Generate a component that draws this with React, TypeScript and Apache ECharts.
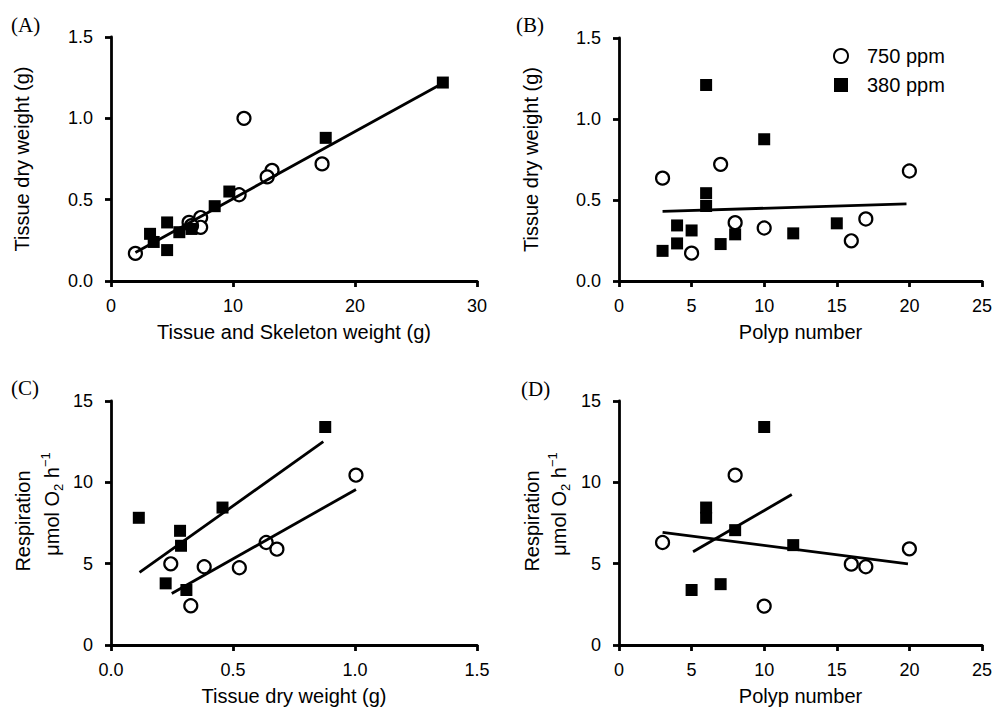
import React, { useEffect, useRef } from "react";
import * as echarts from "echarts";

// Panel A: Tissue and skeleton weight (g) vs tissue dry weight (g)
const aX750 = [2.0, 10.9, 13.2, 12.8, 17.3, 10.5, 7.35, 7.35, 6.4, 6.6];
const aY750 = [0.17, 1.0, 0.68, 0.64, 0.72, 0.53, 0.39, 0.33, 0.36, 0.34];
const aX380 = [27.2, 17.6, 9.7, 8.5, 4.6, 3.2, 3.5, 4.6, 5.6, 6.6];
const aY380 = [1.22, 0.88, 0.55, 0.46, 0.36, 0.29, 0.24, 0.19, 0.3, 0.32];
const aFitX = [2.0, 27.3];
const aFitY = [0.175, 1.22];

// Panel B: polyp number vs tissue dry weight (g)
const bX750 = [3, 5, 7, 8, 10, 16, 17, 20];
const bY750 = [0.635, 0.172, 0.72, 0.36, 0.327, 0.248, 0.383, 0.679];
const bX380 = [6, 10, 6, 6, 4, 5, 3, 4, 7, 8, 12, 15];
const bY380 = [1.21, 0.875, 0.542, 0.463, 0.343, 0.312, 0.186, 0.232, 0.228, 0.288, 0.294, 0.356];
const bFitX = [3, 19.8];
const bFitY = [0.43, 0.476];

// Panel C: tissue dry weight (g) vs respiration
const cX750 = [0.245, 0.327, 0.382, 0.526, 0.636, 0.68, 1.004];
const cY750 = [4.99, 2.41, 4.81, 4.75, 6.3, 5.89, 10.44];
const cX380 = [0.114, 0.283, 0.287, 0.224, 0.309, 0.457, 0.878];
const cY380 = [7.82, 7.02, 6.1, 3.79, 3.38, 8.45, 13.4];
const cFit750X = [0.249, 1.004];
const cFit750Y = [3.17, 9.56];
const cFit380X = [0.117, 0.87];
const cFit380Y = [4.46, 12.5];

// Panel D: polyp number vs respiration
const dX750 = [3, 8, 10, 16, 17, 20];
const dY750 = [6.3, 10.44, 2.39, 4.97, 4.81, 5.91];
const dX380 = [5, 6, 6, 7, 8, 10, 12];
const dY380 = [3.38, 8.45, 7.82, 3.74, 7.06, 13.4, 6.14];
const dFit750X = [3, 19.9];
const dFit750Y = [6.92, 4.99];
const dFit380X = [5.1, 11.9];
const dFit380Y = [5.73, 9.25];

const legendNames = ["750 ppm", "380 ppm"];
const panelLabels = ["(A)", "(B)", "(C)", "(D)"];
const xNames = ["Tissue and Skeleton weight (g)", "Polyp number", "Tissue dry weight (g)", "Polyp number"];
const yNameAB = "Tissue dry weight (g)";
const yNameCD1 = "Respiration";

const SANS = "Liberation Sans, Arial, sans-serif";
const SERIF = "Liberation Serif, Times New Roman, serif";

const zip = (xs: number[], ys: number[]) => xs.map((x, i) => [x, ys[i]]);

export default function App() {
  const ref = useRef<HTMLDivElement>(null);
  useEffect(() => {
    if (!ref.current) return;
    const chart = echarts.init(ref.current, null, { renderer: "svg" });

    const axisCommon = {
      type: "value" as const,
      axisLine: { show: true, onZero: false, lineStyle: { color: "#000", width: 2.8 } },
      axisTick: { show: true, length: 6, lineStyle: { color: "#000", width: 2.8 } },
      axisLabel: { color: "#000", fontSize: 18, fontFamily: SANS, margin: 16 },
      splitLine: { show: false },
      nameTextStyle: { color: "#000", fontSize: 20, fontFamily: SANS },
    };
    const yLabel = { ...axisCommon.axisLabel, margin: 18 };
    const oneDec = (v: number) => v.toFixed(1);

    const grids = [
      { left: 111, top: 37, width: 366, height: 244 },
      { left: 619, top: 38, width: 363, height: 243 },
      { left: 111, top: 401, width: 366, height: 244 },
      { left: 619, top: 401, width: 364, height: 244 },
    ];

    const xAxes = [
      { ...axisCommon, gridIndex: 0, min: 0, max: 30, interval: 10, name: xNames[0], nameLocation: "middle", nameGap: 41 },
      { ...axisCommon, gridIndex: 1, min: 0, max: 25, interval: 5, name: xNames[1], nameLocation: "middle", nameGap: 41 },
      { ...axisCommon, gridIndex: 2, min: 0, max: 1.5, interval: 0.5, name: xNames[2], nameLocation: "middle", nameGap: 41,
        axisLabel: { ...axisCommon.axisLabel, formatter: oneDec } },
      { ...axisCommon, gridIndex: 3, min: 0, max: 25, interval: 5, name: xNames[3], nameLocation: "middle", nameGap: 41 },
    ];
    const yAxes = [
      { ...axisCommon, gridIndex: 0, min: 0, max: 1.5, interval: 0.5, name: yNameAB, nameLocation: "middle", nameGap: 79, nameRotate: 90,
        axisLabel: { ...yLabel, formatter: oneDec } },
      { ...axisCommon, gridIndex: 1, min: 0, max: 1.5, interval: 0.5, name: yNameAB, nameLocation: "middle", nameGap: 78, nameRotate: 90,
        axisLabel: { ...yLabel, formatter: oneDec } },
      { ...axisCommon, gridIndex: 2, min: 0, max: 15, interval: 5, axisLabel: yLabel },
      { ...axisCommon, gridIndex: 3, min: 0, max: 15, interval: 5, axisLabel: yLabel },
    ];

    const open = (name: string, idx: number, data: number[][]) => ({
      type: "scatter", name, xAxisIndex: idx, yAxisIndex: idx, data,
      symbol: "circle", symbolSize: 13, z: 3,
      itemStyle: { color: "#fff", borderColor: "#000", borderWidth: 2.2, opacity: 1 },
    });
    const filled = (name: string, idx: number, data: number[][]) => ({
      type: "scatter", name, xAxisIndex: idx, yAxisIndex: idx, data,
      symbol: "rect", symbolSize: 12, z: 3,
      itemStyle: { color: "#000", opacity: 1 },
    });
    const fit = (name: string, idx: number, data: number[][]) => ({
      type: "line", name, xAxisIndex: idx, yAxisIndex: idx, data,
      showSymbol: false, symbol: "none", z: 4,
      lineStyle: { color: "#000", width: 2.8 },
    });

    const series = [
      open("A 750", 0, zip(aX750, aY750)),
      filled("A 380", 0, zip(aX380, aY380)),
      fit("A fit", 0, zip(aFitX, aFitY)),
      open(legendNames[0], 1, zip(bX750, bY750)),
      filled(legendNames[1], 1, zip(bX380, bY380)),
      fit("B fit", 1, zip(bFitX, bFitY)),
      open("C 750", 2, zip(cX750, cY750)),
      filled("C 380", 2, zip(cX380, cY380)),
      fit("C fit 750", 2, zip(cFit750X, cFit750Y)),
      fit("C fit 380", 2, zip(cFit380X, cFit380Y)),
      open("D 750", 3, zip(dX750, dY750)),
      filled("D 380", 3, zip(dX380, dY380)),
      fit("D fit 750", 3, zip(dFit750X, dFit750Y)),
      fit("D fit 380", 3, zip(dFit380X, dFit380Y)),
    ];

    const labelPos = [
      [11, 25],
      [516, 25],
      [11, 388],
      [521, 389],
    ];
    const graphic: any[] = panelLabels.map((t, i) => ({
      type: "text",
      x: labelPos[i][0],
      y: labelPos[i][1],
      style: { text: t, fontSize: 21, fontFamily: SERIF, fill: "#000", align: "left", verticalAlign: "middle" },
    }));
    const respX = [23, 532];
    const unitX = [52, 559];
    respX.forEach((x, i) => {
      graphic.push({
        type: "text", x, y: 521, rotation: Math.PI / 2,
        style: { text: yNameCD1, fontSize: 20, fontFamily: SANS, fill: "#000", align: "center", verticalAlign: "middle" },
      });
      graphic.push({
        type: "text", x: unitX[i], y: 504, rotation: Math.PI / 2,
        style: {
          text: "{n|μmol O}{s|2}{n| h}{p|−1}",
          align: "center", verticalAlign: "middle",
          rich: {
            n: { fontSize: 20, fontFamily: SANS, fill: "#000", lineHeight: 26, verticalAlign: "middle" },
            s: { fontSize: 13, fontFamily: SANS, fill: "#000", verticalAlign: "bottom", lineHeight: 13 },
            p: { fontSize: 13, fontFamily: SANS, fill: "#000", verticalAlign: "top", lineHeight: 13 },
          },
        },
      });
    });

    chart.setOption({
      animation: false,
      backgroundColor: "#fff",
      grid: grids,
      xAxis: xAxes,
      yAxis: yAxes,
      legend: {
        data: legendNames,
        orient: "vertical",
        left: 828,
        top: 41,
        itemWidth: 14,
        itemHeight: 14,
        itemGap: 9,
        textStyle: { fontSize: 20, fontFamily: SANS, color: "#000", padding: [0, 0, 0, 14] },
      },
      series,
      graphic,
    });
    return () => chart.dispose();
  }, []);
  return (
    <div
      ref={ref}
      style={{ position: "fixed", left: 0, top: 0, width: 995, height: 710, background: "#fff" }}
    />
  );
}
